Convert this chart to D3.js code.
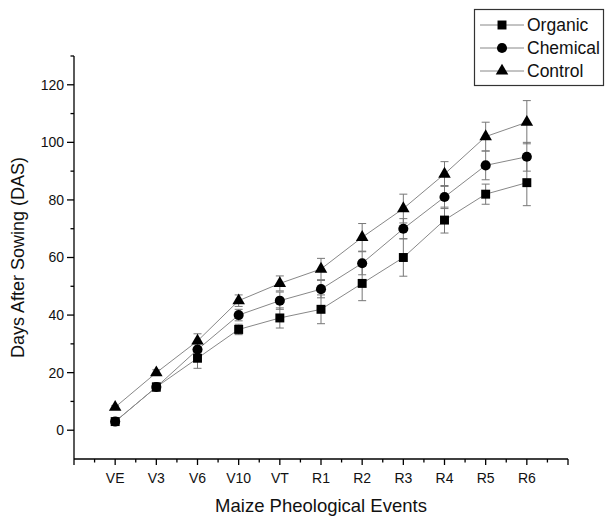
<!DOCTYPE html>
<html>
<head>
<meta charset="utf-8">
<script src="https://cdnjs.cloudflare.com/ajax/libs/d3/7.8.5/d3.min.js"></script>
<style>
  body { margin: 0; background: #fff; }
  text { font-family: "Liberation Sans", Arial, sans-serif; }
</style>
</head>
<body>
<div id="chart"></div>
<script>
// maize phenological stages
var stages = ["VE", "V3", "V6", "V10", "VT", "R1", "R2", "R3", "R4", "R5", "R6"];

var organic = [3, 15, 25, 35, 39, 42, 51, 60, 73, 82, 86];
var organicErr = [0.5, 1.5, 3.5, 1.8, 3.5, 5, 6, 6.5, 4.5, 3.5, 8];

var chemical = [3, 15, 28, 40, 45, 49, 58, 70, 81, 92, 95];
var chemicalErr = [0.5, 1.5, 2, 2, 3, 3, 4, 3.5, 4, 5, 5];

var control = [8, 20, 31, 45, 51, 56, 67, 77, 89, 102, 107];
var controlErr = [0.5, 1, 2.5, 2, 2.6, 3.7, 4.8, 5, 4.3, 5, 7.5];

var yTicks = [0, 20, 40, 60, 80, 100, 120];

var series = [
  {name: "Organic", values: organic, err: organicErr, shape: d3.symbolSquare},
  {name: "Chemical", values: chemical, err: chemicalErr, shape: d3.symbolCircle},
  {name: "Control", values: control, err: controlErr, shape: d3.symbolTriangle}
];

var svg = d3.select("#chart").append("svg")
  .attr("width", 606)
  .attr("height", 516);

var margin = {top: 56, right: 38, bottom: 57, left: 74},
  width = 606 - margin.left - margin.right,
  height = 516 - margin.top - margin.bottom;

var g = svg.append("g").attr("transform", "translate(" + margin.left + "," + margin.top + ")");

var x = d3.scaleLinear().domain([0, stages.length + 1]).range([0, width]);
var y = d3.scaleLinear().domain([-10, 130]).range([height, 0]);

// x axis: major ticks on stages, minor in between
var xMajor = d3.range(0, stages.length + 2);
var xMinor = d3.range(0.5, stages.length + 1, 1);

var xAxis = g.append("g")
  .attr("transform", "translate(0," + height + ")");
xAxis.append("line").attr("x1", 0).attr("x2", width).attr("stroke", "#000").attr("stroke-width", 1.3);
xAxis.selectAll(".maj").data(xMajor).enter().append("line")
  .attr("x1", x).attr("x2", x).attr("y1", 0).attr("y2", 6)
  .attr("stroke", "#000").attr("stroke-width", 1.3);
xAxis.selectAll(".min").data(xMinor).enter().append("line")
  .attr("x1", x).attr("x2", x).attr("y1", 0).attr("y2", 3.5)
  .attr("stroke", "#000").attr("stroke-width", 1.3);
xAxis.selectAll(".lab").data(stages).enter().append("text")
  .attr("x", function(d, i) { return x(i + 1); })
  .attr("y", 24)
  .attr("text-anchor", "middle")
  .attr("font-size", 14)
  .attr("fill", "#111")
  .text(function(d) { return d; });

// y axis
var yMinor = d3.range(10, 131, 20);
var yAxis = g.append("g");
yAxis.append("line").attr("y1", 0).attr("y2", height).attr("stroke", "#000").attr("stroke-width", 1.3);
yAxis.selectAll(".maj").data(yTicks).enter().append("line")
  .attr("y1", y).attr("y2", y).attr("x1", 0).attr("x2", -7)
  .attr("stroke", "#000").attr("stroke-width", 1.3);
yAxis.selectAll(".min").data(yMinor).enter().append("line")
  .attr("y1", y).attr("y2", y).attr("x1", 0).attr("x2", -3.5)
  .attr("stroke", "#000").attr("stroke-width", 1.3);
yAxis.selectAll(".lab").data(yTicks).enter().append("text")
  .attr("x", -10)
  .attr("y", y)
  .attr("dy", "0.35em")
  .attr("text-anchor", "end")
  .attr("font-size", 14)
  .attr("fill", "#111")
  .text(function(d) { return d; });

// axis titles
svg.append("text")
  .attr("transform", "translate(24," + (margin.top + height / 2) + ") rotate(-90)")
  .attr("text-anchor", "middle")
  .attr("font-size", 18)
  .attr("fill", "#111")
  .text("Days After Sowing (DAS)");

svg.append("text")
  .attr("x", margin.left + width / 2)
  .attr("y", 512)
  .attr("text-anchor", "middle")
  .attr("font-size", 18.5)
  .attr("fill", "#111")
  .text("Maize Pheological Events");

var line = d3.line()
  .x(function(d, i) { return x(i + 1); })
  .y(function(d) { return y(d); });

// connecting lines
g.selectAll(".series-line").data(series).enter().append("path")
  .attr("d", function(s) { return line(s.values); })
  .attr("fill", "none")
  .attr("stroke", "#888")
  .attr("stroke-width", 1);

// error bars
series.forEach(function(s) {
  var eb = g.append("g").attr("stroke", "#777").attr("stroke-width", 1);
  s.values.forEach(function(v, i) {
    var cx = x(i + 1);
    eb.append("line").attr("x1", cx).attr("x2", cx).attr("y1", y(v - s.err[i])).attr("y2", y(v + s.err[i]));
    eb.append("line").attr("x1", cx - 4).attr("x2", cx + 4).attr("y1", y(v - s.err[i])).attr("y2", y(v - s.err[i]));
    eb.append("line").attr("x1", cx - 4).attr("x2", cx + 4).attr("y1", y(v + s.err[i])).attr("y2", y(v + s.err[i]));
  });
});

// markers
var symbolSize = function(s) { return s.shape === d3.symbolTriangle ? 68 : 80; };
series.forEach(function(s) {
  g.append("g").selectAll("path").data(s.values).enter().append("path")
    .attr("transform", function(d, i) { return "translate(" + x(i + 1) + "," + y(d) + ")"; })
    .attr("d", d3.symbol().type(s.shape).size(symbolSize(s)))
    .attr("fill", "#000");
});

// legend
var legend = svg.append("g");
legend.append("rect")
  .attr("x", 474.5).attr("y", 9.5)
  .attr("width", 129).attr("height", 76)
  .attr("fill", "#fff")
  .attr("stroke", "#333")
  .attr("stroke-width", 1.2);

var item = legend.selectAll(".item").data(series).enter().append("g")
  .attr("transform", function(d, i) { return "translate(0," + (25 + i * 23) + ")"; });

item.append("line")
  .attr("x1", 480).attr("x2", 524)
  .attr("stroke", "#888").attr("stroke-width", 1);
item.append("path")
  .attr("transform", "translate(502,0)")
  .attr("d", function(s) { return d3.symbol().type(s.shape).size(symbolSize(s))(); })
  .attr("fill", "#000");
item.append("text")
  .attr("x", 527)
  .attr("dy", "0.35em")
  .attr("font-size", 17.5)
  .attr("fill", "#111")
  .text(function(s) { return s.name; });
</script>
</body>
</html>
